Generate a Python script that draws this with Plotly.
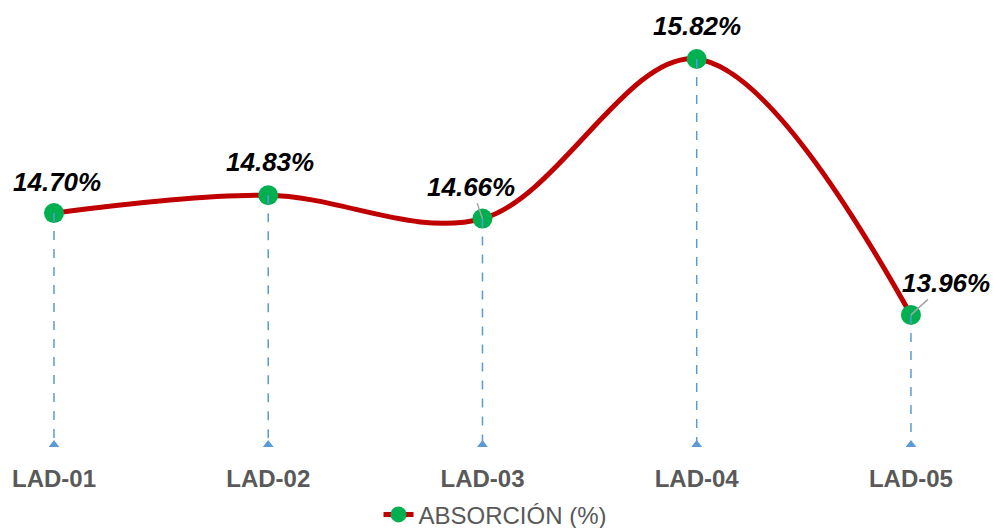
import plotly.graph_objects as go

# Water absorption per sample
categories = ["LAD-01", "LAD-02", "LAD-03", "LAD-04", "LAD-05"]
absorcion = [14.70, 14.83, 14.66, 15.82, 13.96]
series_name = "ABSORCIÓN (%)"

# Axis floor where the drop lines end
y_floor = 13.0

# Label offsets in pixels (dx, dy) and whether a leader line is drawn
label_offsets = [(3, -31, False), (2, -33, False), (-11, -32, True), (0, -33, False), (35, -32, True)]

RED = "#C00000"
GREEN = "#00B050"
BLUE = "#5B9BD5"
FONT = "Liberation Sans"

fig = go.Figure()

# Smoothed main line with markers
fig.add_trace(go.Scatter(
    x=categories, y=absorcion, name=series_name, mode="lines+markers",
    line=dict(color=RED, width=5, shape="spline", smoothing=1.0),
    marker=dict(color=GREEN, size=20, line=dict(width=0)),
    showlegend=True,
))

# Dashed drop lines from each point to the axis floor
drop_x, drop_y = [], []
for c, v in zip(categories, absorcion):
    drop_x += [c, c, None]
    drop_y += [v, y_floor, None]
fig.add_trace(go.Scatter(
    x=drop_x, y=drop_y, mode="lines",
    line=dict(color=BLUE, width=1.5, dash="dash"),
    hoverinfo="skip", showlegend=False,
))
fig.add_trace(go.Scatter(
    x=categories, y=[y_floor] * len(categories), mode="markers",
    marker=dict(symbol="triangle-up", color=BLUE, size=14, line=dict(width=0)),
    hoverinfo="skip", showlegend=False,
))

# Value labels
for c, v, (dx, dy, leader) in zip(categories, absorcion, label_offsets):
    if leader:
        fig.add_annotation(
            x=c, y=v, text=f"<b><i>{v:.2f}%</i></b>", showarrow=True,
            ax=dx, ay=dy, arrowhead=0, arrowwidth=1.5, arrowcolor="#A6A6A6",
            standoff=0, startstandoff=0,
            font=dict(family=FONT, size=26, color="#000000"),
        )
    else:
        fig.add_annotation(
            x=c, y=v, text=f"<b><i>{v:.2f}%</i></b>", showarrow=False,
            xshift=dx, yshift=-dy,
            font=dict(family=FONT, size=26, color="#000000"),
        )

fig.update_layout(
    width=993, height=528,
    margin=dict(l=0, r=0, t=0, b=81, autoexpand=False),
    paper_bgcolor="white", plot_bgcolor="white",
    font=dict(family=FONT),
    xaxis=dict(
        type="category", range=[-0.252, 4.383], automargin=False,
        showgrid=False, zeroline=False, showline=False,
        ticks="", ticklabelstandoff=15,
        tickfont=dict(family=FONT, size=24, color="#595959", weight="bold"),
    ),
    yaxis=dict(
        range=[y_floor, 16.249], visible=False, automargin=False,
        showgrid=False, zeroline=False,
    ),
    legend=dict(
        orientation="h", x=0.499, xanchor="center",
        yref="container", y=0.025, yanchor="middle",
        font=dict(family=FONT, size=24, color="#595959"),
        bgcolor="rgba(0,0,0,0)",
    ),
    showlegend=True,
)

fig.write_html("out.html")
